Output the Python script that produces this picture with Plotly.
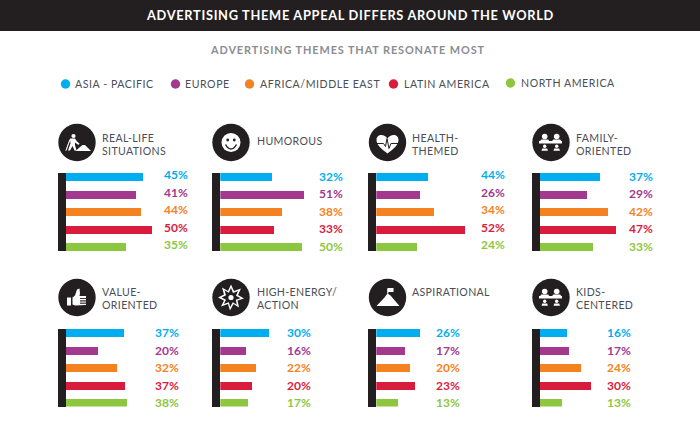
import plotly.graph_objects as go

W, H = 700, 430
FONT = "Lato"

title = "ADVERTISING THEME APPEAL DIFFERS AROUND THE WORLD"
subtitle = "ADVERTISING THEMES THAT RESONATE MOST"
regions = ["ASIA - PACIFIC", "EUROPE", "AFRICA/MIDDLE EAST", "LATIN AMERICA", "NORTH AMERICA"]
region_colors = ["#00AEEF", "#A3388F", "#F58220", "#DA1C3C", "#8DC63F"]
themes = ["REAL-LIFE<br>SITUATIONS", "HUMOROUS", "HEALTH-<br>THEMED", "FAMILY-<br>ORIENTED",
          "VALUE-<br>ORIENTED", "HIGH-ENERGY/<br>ACTION", "ASPIRATIONAL", "KIDS-<br>CENTERED"]

# printed percentages, one list per region, in theme order
asia = [45, 32, 44, 37, 37, 30, 26, 16]
europe = [41, 51, 26, 29, 20, 16, 17, 17]
africa_me = [44, 38, 34, 42, 32, 22, 20, 24]
latin_america = [50, 33, 52, 47, 37, 20, 23, 30]
north_america = [35, 50, 24, 33, 38, 17, 13, 13]
# the reference draws the Health-themed Asia bar shorter than its printed 44%
asia_drawn = [45, 32, 30.5, 37, 36, 30, 26, 16]

series_printed = [asia, europe, africa_me, latin_america, north_america]
series_drawn = [asia_drawn, europe, africa_me, latin_america, north_america]

# layout per panel (pixels)
axis_right = [66, 220.3, 376.3, 540, 66, 220.3, 376.3, 540]
px_per_pct = [1.71, 1.64, 1.71, 1.62, 1.60, 1.62, 1.70, 1.70]
label_x = [176, 331, 493, 641, 167, 299, 448, 619]
label_dy = [-2, -0.5, -2, -0.5, 0, 0, 0, 0]
head_x = [100, 255, 410, 574, 100, 255, 410, 574]
head_y = [144.5, 141, 144.5, 144.5, 298.5, 298.5, 292, 298.5]
icon_x = [77, 231, 387.5, 551, 77, 231, 387.5, 551]
icon_y = [142.5, 142.5, 142.5, 142.5, 297.5, 297.5, 297.5, 297.5]
row_top = [173, 173, 173, 173, 328.5, 328.5, 328.5, 328.5]
ROW_H = 78
STEP = 17.5
PANEL_W = 125
DARK = "#231F20"
TXT = "#4A4F57"


def px(x):
    return x / W


def py(y):
    return 1 - y / H


def path(cmds, cx, cy):
    """cmds: list of ('M', x, y, ...) in px relative to an icon centre."""
    out = []
    for c in cmds:
        s = c[0]
        nums = c[1:]
        pts = []
        for i in range(0, len(nums), 2):
            pts.append(f"{px(cx + nums[i]):.5f},{py(cy + nums[i + 1]):.5f}")
        out.append(s + " ".join(pts))
    return "".join(out)


def poly(pts, cx, cy):
    cmds = [("M", *pts[0])] + [("L", *p) for p in pts[1:]] + [("Z",)]
    return path(cmds, cx, cy)


def circ(x, y, r, cx, cy, color):
    return dict(type="circle", xref="paper", yref="paper",
                x0=px(cx + x - r), x1=px(cx + x + r), y0=py(cy + y + r), y1=py(cy + y - r),
                fillcolor=color, line=dict(width=0))


def fill(d, color="white"):
    return dict(type="path", xref="paper", yref="paper", path=d, fillcolor=color, line=dict(width=0))


def stroke(d, color, w=1.2):
    return dict(type="path", xref="paper", yref="paper", path=d, fillcolor="rgba(0,0,0,0)",
                line=dict(width=w, color=color))


def icon_digger(cx, cy):
    return [
        fill(poly([(-1.5, 8.5), (3, 4.5), (5.5, 2.5), (8, 2.5), (14, 8.5)], cx, cy)),
        circ(-3.5, -6.5, 2.1, cx, cy, "white"),
        fill(poly([(-7, -4), (-2, -4), (0, -1), (2.5, 1), (1.5, 2.5), (-2, 0), (-2, 2.5), (-0.5, 8), (-2.5, 8),
                   (-4.5, 3.5), (-7, 8), (-9, 8), (-6.5, 1)], cx, cy)),
        stroke(poly([(-7, -3), (-11, 8)], cx, cy), "white", 0.8),
    ]


def icon_smile(cx, cy):
    return [
        circ(0, 0, 9.5, cx, cy, "white"),
        circ(-3.3, -2.5, 1.4, cx, cy, DARK),
        circ(3.3, -2.5, 1.4, cx, cy, DARK),
        stroke(path([("M", -5.5, 2), ("Q", -3, 6.5, 0, 6.5), ("Q", 3, 6.5, 5.5, 2)], cx, cy), DARK, 1.4),
    ]


def icon_heart(cx, cy):
    d = path([("M", 0, 11), ("C", -6, 6.5, -11, 2.5, -11, -2.5), ("C", -11, -9, -3, -9, 0, -4),
              ("C", 3, -9, 11, -9, 11, -2.5), ("C", 11, 2.5, 6, 6.5, 0, 11), ("Z",)], cx, cy)
    pulse = path([("M", -11, 1), ("L", -4, 1), ("L", -2, 4), ("L", -0.5, -4), ("L", 1.5, 6), ("L", 3.5, 1), ("L", 11, 1)], cx, cy)
    return [fill(d), stroke(pulse, DARK, 1)]


def icon_family(cx, cy):
    shapes = []
    for dx in (-6.3, 5.7):
        shapes.append(circ(dx, -6, 2.8, cx, cy, "white"))
        shapes.append(fill(poly([(dx - 4.5, -1.5), (dx - 3.5, -3), (dx + 3.5, -3), (dx + 4.5, -1.5)], cx, cy)))
    shapes.append(fill(poly([(-12, -1.5), (11, -1.5), (11, 1), (-12, 1)], cx, cy)))
    for dx in (-6.3, 5.7):
        shapes.append(circ(dx, 3.8, 1.7, cx, cy, "white"))
        shapes.append(fill(poly([(dx - 3.2, 8.3), (dx - 2.5, 6), (dx + 2.5, 6), (dx + 3.2, 8.3)], cx, cy)))
    return shapes


def icon_thumb(cx, cy):
    return [
        fill(poly([(-10, 0), (-6, 0), (-6, 8), (-10, 8)], cx, cy)),
        fill(poly([(-4.5, 0), (-2, -2), (0, -8), (2.5, -9), (3, -4), (2.5, -1.5), (9, -1.5), (9, 7.5),
                   (-2, 8), (-4.5, 7)], cx, cy)),
        stroke(poly([(3, 1), (9, 1)], cx, cy), DARK, 0.7),
        stroke(poly([(3, 3.4), (9, 3.4)], cx, cy), DARK, 0.7),
        stroke(poly([(3, 5.7), (9, 5.7)], cx, cy), DARK, 0.7),
    ]


def icon_burst(cx, cy):
    outer = [(0, -13), (3, -6.5), (10, -9), (7, -2.5), (13, 1), (6.5, 3), (8, 10), (2.5, 6.5),
             (-1, 13), (-3, 6.5), (-10, 9), (-7, 3), (-13, 0), (-7, -3), (-9, -10), (-3, -6.5)]
    inner = [(0, -9.5), (2, -4.5), (7, -6.5), (5, -1.8), (9.5, 0.8), (4.8, 2.2), (5.8, 7.2), (1.8, 4.8),
             (-0.8, 9.5), (-2.2, 4.8), (-7.2, 6.5), (-5, 2.2), (-9.5, 0), (-5, -2.2), (-6.5, -7.2), (-2.2, -4.8)]
    return [fill(poly(outer, cx, cy)), fill(poly(inner, cx, cy), DARK), circ(0, 0, 2.6, cx, cy, "white")]


def icon_mountain(cx, cy):
    return [
        fill(poly([(-11, 8.5), (-3, 0), (0, -4), (3, -2), (12, 8.5)], cx, cy)),
        stroke(poly([(0.3, -4), (0.3, -9)], cx, cy), "white", 0.8),
        fill(poly([(0.3, -9.5), (6, -9.5), (6, -5.5), (0.3, -5.5)], cx, cy)),
    ]


icons = [icon_digger, icon_smile, icon_heart, icon_family, icon_thumb, icon_burst, icon_mountain, icon_family]

fig = go.Figure()
layout = dict(
    width=W, height=H, margin=dict(l=0, r=0, t=0, b=0),
    paper_bgcolor="white", plot_bgcolor="rgba(0,0,0,0)", showlegend=False,
    font=dict(family=FONT), bargap=0,
)
annotations = []
shapes = [dict(type="rect", xref="paper", yref="paper", x0=0, x1=1, y0=py(31), y1=1,
               fillcolor=DARK, line=dict(width=0))]


def add_text(text, x, y, size, color, xanchor="left", bold=False, track=0.0):
    t = f'<span style="letter-spacing:{track}px">{text}</span>' if track else text
    annotations.append(dict(text=f"<b>{t}</b>" if bold else t, x=px(x), y=py(y), xref="paper", yref="paper",
                            xanchor=xanchor, yanchor="middle", align="left", showarrow=False,
                            font=dict(family=FONT, size=size, color=color)))


add_text(title, 349.5, 15.5, 12.8, "white", "center", True, 0.7)
add_text(subtitle, 347.5, 49, 10.9, "#8A8D92", "center", True, 0.9)

legend_dot = [65.5, 175.5, 249.5, 393.5, 510.5]
legend_text = [73, 183, 257.5, 402, 518.5]
legend_y = [84, 84, 84, 84, 83]
for name, color, dx, tx, ly in zip(regions, region_colors, legend_dot, legend_text, legend_y):
    shapes.append(circ(dx, ly, 4.7, 0, 0, color))
    add_text(name, tx, ly, 10.6, TXT, track=0.55)

for i, theme in enumerate(themes):
    ax = "" if i == 0 else str(i + 1)
    drawn = [s[i] for s in series_drawn]
    printed = [s[i] for s in series_printed]
    fig.add_trace(go.Bar(
        x=drawn, y=regions, orientation="h", width=8 / STEP, name=theme.replace("<br>", " "),
        marker=dict(color=region_colors, line=dict(width=0)),
        xaxis=f"x{ax}", yaxis=f"y{ax}", hoverinfo="x+y",
    ))
    x0 = axis_right[i]
    top = row_top[i]
    pad = (ROW_H - 4 * STEP) / 2 / STEP
    layout[f"xaxis{ax}"] = dict(domain=[px(x0), px(x0 + PANEL_W)], range=[0, PANEL_W / px_per_pct[i]],
                                visible=False, anchor=f"y{ax}", fixedrange=True)
    layout[f"yaxis{ax}"] = dict(domain=[py(top + ROW_H), py(top)], type="category", categoryorder="array",
                                categoryarray=regions, range=[4 + pad, -pad], anchor=f"x{ax}",
                                showline=True, linewidth=8, linecolor=DARK, ticks="", showticklabels=False,
                                showgrid=False, zeroline=False, fixedrange=True)
    for k, (val, color) in enumerate(zip(printed, region_colors)):
        annotations.append(dict(text=f"<b>{val}%</b>", x=px(label_x[i]), xref="paper", xanchor="center",
                                y=regions[k], yref=f"y{ax}", yanchor="middle", yshift=-label_dy[i],
                                showarrow=False, font=dict(family=FONT, size=12, color=color)))
    lines = theme.split("<br>")
    for n, line in enumerate(lines):
        offset = (n - (len(lines) - 1) / 2) * 13
        add_text(line, head_x[i], head_y[i] + offset, 10.6, TXT, track=0.35)
    shapes.append(circ(0, 0, 18.7, icon_x[i], icon_y[i], DARK))
    shapes.extend(icons[i](icon_x[i], icon_y[i]))

layout["annotations"] = annotations
layout["shapes"] = shapes
fig.update_layout(**layout)
fig.write_html("out.html", config=dict(displayModeBar=False),
               post_script="document.body.style.margin='0';")
